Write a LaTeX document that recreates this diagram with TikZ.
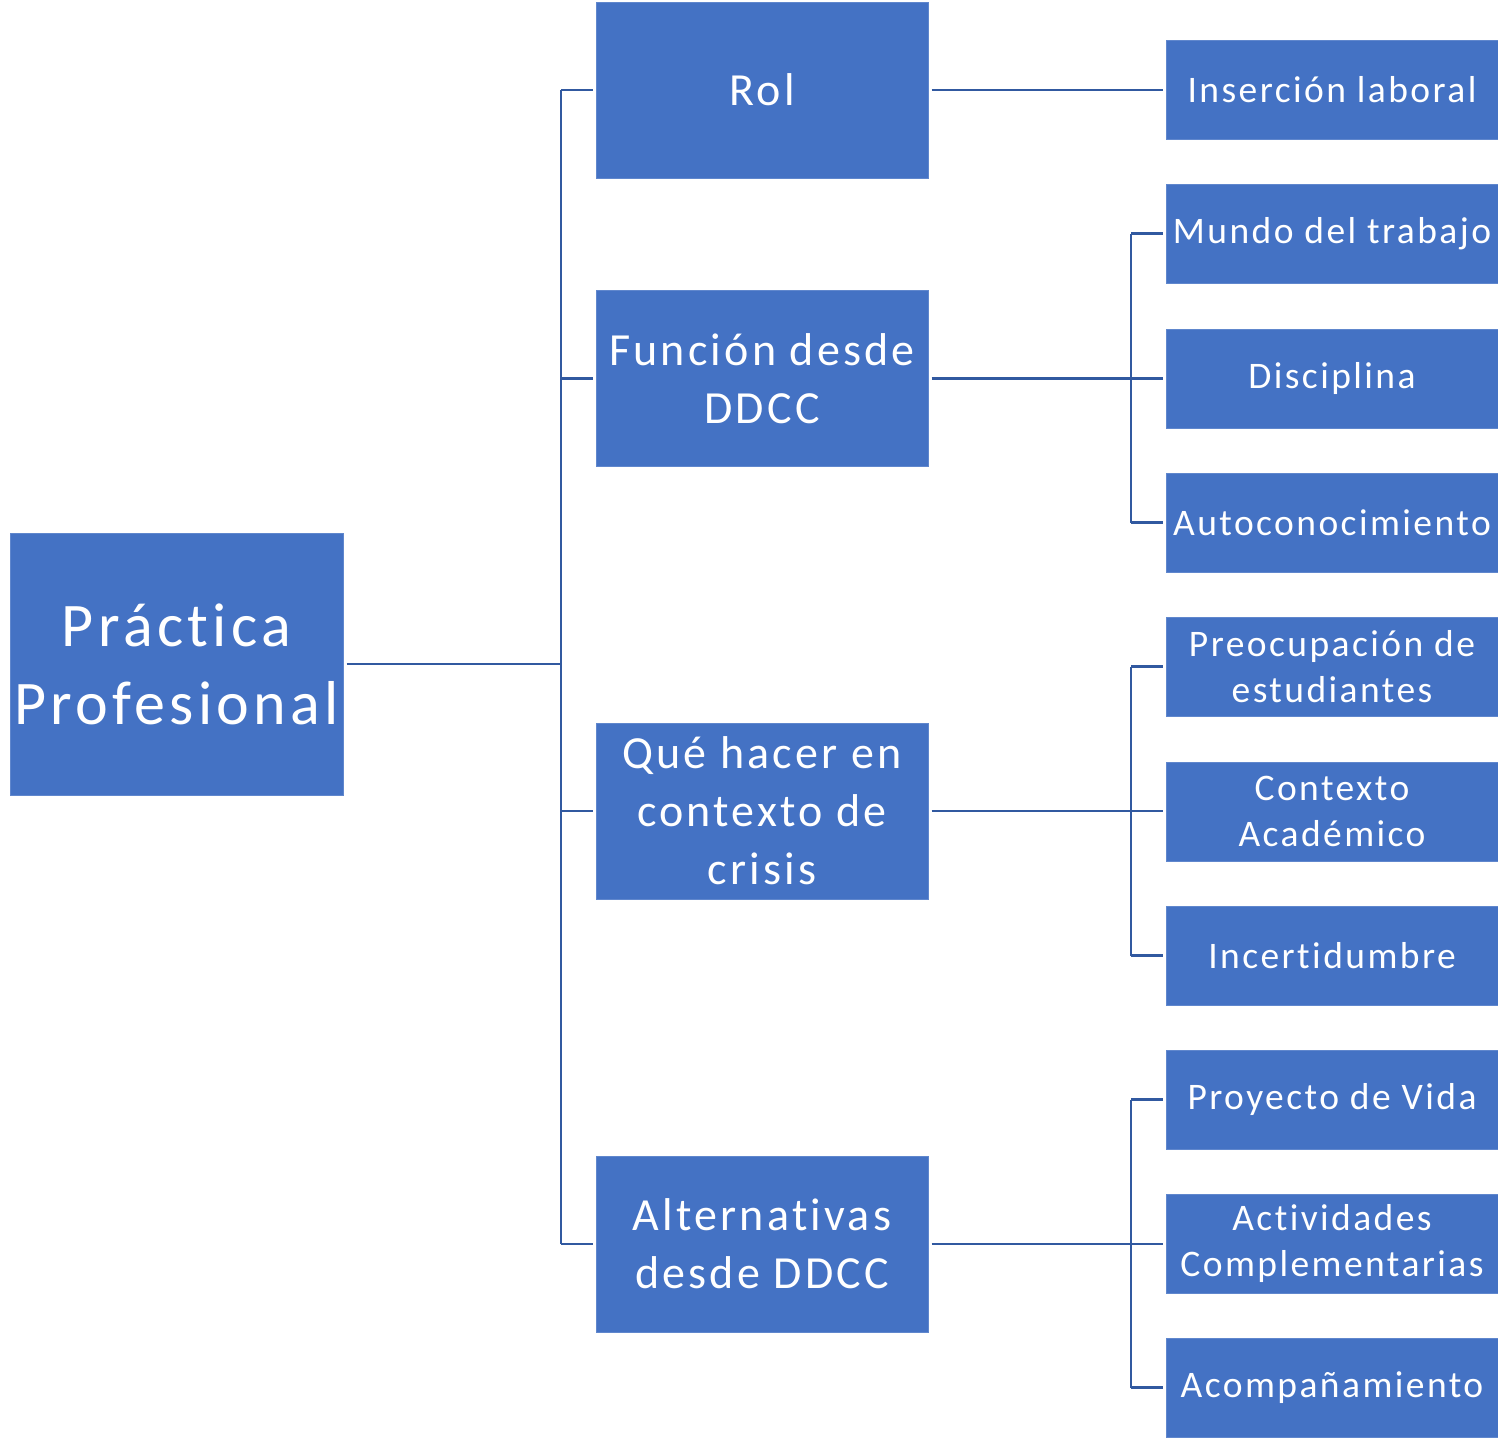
\documentclass[tikz,border=0pt]{standalone}
\usepackage{fontspec}
\setmainfont{Carlito}[Ligatures=NoCommon]
\definecolor{boxblue}{HTML}{4472C4}
\definecolor{linkblue}{HTML}{3159A0}
\begin{document}
\begin{tikzpicture}[x=1pt,y=-1pt,
  box/.style={fill=boxblue, draw=boxblue!85!white, line width=1pt, text=white, inner sep=0pt, align=center, anchor=center},
  rootbox/.style={box, minimum width=333pt, minimum height=262pt, font=\fontsize{62}{78}\selectfont\addfontfeatures{LetterSpace=7}},
  midbox/.style={box, minimum width=332pt, minimum height=176pt, font=\fontsize{46}{58}\selectfont\addfontfeatures{LetterSpace=7}},
  leafbox/.style={box, minimum width=332pt, minimum height=99pt, font=\fontsize{37.5}{46}\selectfont\addfontfeatures{LetterSpace=6.5}},
  link/.style={draw=linkblue, line width=2.4pt}]
\useasboundingbox (0,0) rectangle (1498,1440);

\node[rootbox] (root) at (176.5,664) {Práctica\\Profesional};

\node[midbox] (rol) at (762,90) {Rol};
\node[midbox] (fun) at (762,378.5) {Función desde\\DDCC};
\node[midbox] (que) at (762,811) {Qué hacer en\\contexto de\\crisis};
\node[midbox] (alt) at (762,1244) {Alternativas\\desde DDCC};

\node[leafbox] (ins) at (1332,89.5) {Inserción laboral};
\node[leafbox] (mun) at (1332,233.5) {Mundo del trabajo};
\node[leafbox] (dis) at (1332,378.5) {Disciplina};
\node[leafbox] (aut) at (1332,522.5) {Autoconocimiento};
\node[leafbox] (pre) at (1332,666.5) {Preocupación de\\estudiantes};
\node[leafbox] (con) at (1332,811.5) {Contexto\\Académico};
\node[leafbox] (inc) at (1332,955.5) {Incertidumbre};
\node[leafbox] (pro) at (1332,1099.5) {Proyecto de Vida};
\node[leafbox] (act) at (1332,1243.5) {Actividades\\Complementarias};
\node[leafbox] (aco) at (1332,1387.5) {Acompañamiento};

% junctions
\coordinate (j0) at (561,664);
\coordinate (j0t) at (561,90);
\coordinate (j0b) at (561,1244);
\coordinate (j2) at (1131,378.5);
\coordinate (j3) at (1131,811);
\coordinate (j4) at (1131,1244);

% root to middle
\draw[link] ([xshift=3pt]root.east) -- (j0);
\draw[link] (j0t) -- (j0b);
\draw[link] (j0t) -- ([xshift=-3pt]rol.west);
\draw[link] (j0 |- fun.west) -- ([xshift=-3pt]fun.west);
\draw[link] (j0 |- que.west) -- ([xshift=-3pt]que.west);
\draw[link] (j0b) -- ([xshift=-3pt]alt.west);

% middle to leaves
\draw[link] ([xshift=3pt]rol.east) -- ([xshift=-3pt]rol.east -| ins.west);

\draw[link] ([xshift=3pt]fun.east) -- ([xshift=-3pt]fun.east -| dis.west);
\draw[link] (j2 |- mun.west) -- (j2 |- aut.west);
\draw[link] (j2 |- mun.west) -- ([xshift=-3pt]mun.west);
\draw[link] (j2 |- aut.west) -- ([xshift=-3pt]aut.west);

\draw[link] ([xshift=3pt]que.east) -- ([xshift=-3pt]que.east -| con.west);
\draw[link] (j3 |- pre.west) -- (j3 |- inc.west);
\draw[link] (j3 |- pre.west) -- ([xshift=-3pt]pre.west);
\draw[link] (j3 |- inc.west) -- ([xshift=-3pt]inc.west);

\draw[link] ([xshift=3pt]alt.east) -- ([xshift=-3pt]alt.east -| act.west);
\draw[link] (j4 |- pro.west) -- (j4 |- aco.west);
\draw[link] (j4 |- pro.west) -- ([xshift=-3pt]pro.west);
\draw[link] (j4 |- aco.west) -- ([xshift=-3pt]aco.west);
\end{tikzpicture}
\end{document}
